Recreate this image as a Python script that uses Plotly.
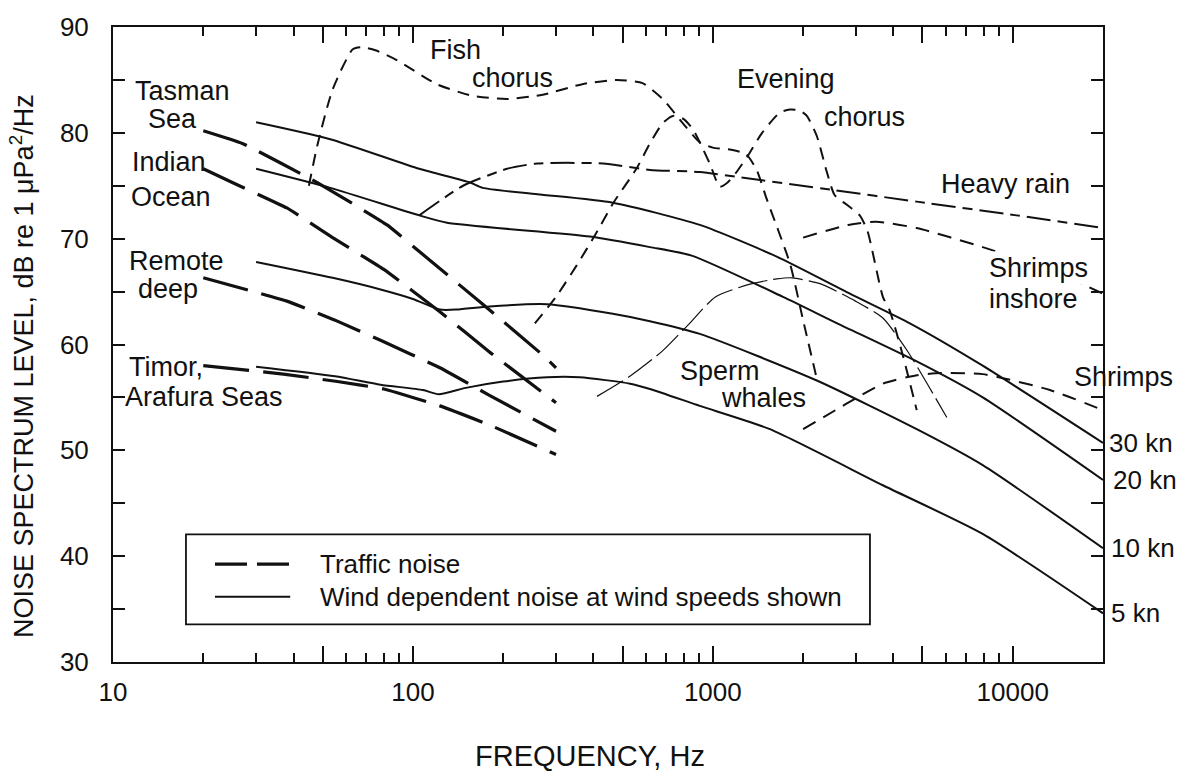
import math
import plotly.graph_objects as go

# ---------------- data (Hz, dB re 1 uPa^2/Hz) ----------------
wind30_f = [30, 53, 105, 155, 171, 260, 464, 905, 1634, 2864, 4540, 7940, 20000]
wind30_db = [81.0, 79.4, 76.6, 75.3, 74.8, 74.2, 73.4, 71.3, 68.3, 64.8, 62.0, 58.0, 50.7]

wind20_f = [30, 53, 105, 130, 389, 617, 850, 1714, 2600, 4786, 7943, 20000]
wind20_db = [76.6, 74.8, 72.2, 71.5, 70.2, 69.2, 68.4, 64.5, 62.0, 58.4, 55.0, 47.2]

wind10_f = [30, 54, 78, 100, 123, 140, 180, 280, 464, 617, 905, 2222, 4786, 7943, 20000]
wind10_db = [67.8, 66.3, 65.2, 64.3, 63.3, 63.3, 63.6, 63.8, 62.9, 62.2, 61.0, 56.6, 52.0, 48.6, 40.75]

wind5_f = [30, 55, 78, 108, 122, 150, 200, 280, 360, 530, 617, 905, 1550, 3690, 7940, 20000]
wind5_db = [57.9, 57.0, 56.2, 55.7, 55.3, 55.9, 56.5, 56.9, 56.9, 56.3, 55.8, 54.2, 52.0, 46.7, 42.1, 34.6]

tasman_f = [20, 27, 48, 82, 108, 171, 271, 300]
tasman_db = [80.2, 79.0, 75.3, 71.3, 68.5, 63.8, 59.0, 57.8]
indian_f = [20, 25, 38, 54, 80, 123, 180, 300]
indian_db = [76.6, 75.3, 72.9, 70.1, 67.1, 63.1, 59.3, 54.5]
remote_f = [20, 38, 55, 78, 123, 180, 300]
remote_db = [66.3, 64.1, 62.3, 60.4, 57.8, 55.2, 51.8]
timor_f = [20, 37, 56, 80, 123, 180, 300]
timor_db = [58.0, 57.2, 56.5, 55.8, 54.2, 52.4, 49.6]

rain_f = [105, 147, 206, 259, 430, 617, 905, 1230, 2512, 4786, 10300, 20000]
rain_db = [72.2, 75.0, 76.6, 77.1, 77.1, 76.5, 76.3, 75.8, 74.6, 73.5, 72.2, 71.0]

fish_f = [45, 48, 54, 63, 67, 75, 88, 120, 158, 206, 271, 367, 478, 583, 680, 795,
          905, 1000, 1150, 1290, 1400, 1510, 1810, 2000, 2220]
fish_db = [75.0, 78.8, 84.1, 87.9, 88.1, 87.8, 86.9, 84.6, 83.5, 83.2, 83.6, 84.6, 85.0, 84.7, 83.2, 80.9,
           79.1, 78.6, 78.4, 78.0, 76.5, 73.8, 67.6, 62.3, 56.8]

even_f = [255, 300, 352, 410, 464, 556, 617, 680, 736, 800, 860, 905, 980, 1055, 1120, 1200, 1320,
          1460, 1670, 1807, 1950, 2058, 2222, 2400, 2550, 2800, 3090, 3280, 3690, 3890, 4280, 4786]
even_db = [62.0, 64.5, 67.5, 70.6, 73.3, 76.6, 79.0, 80.9, 81.6, 81.3, 80.3, 79.1, 77.0, 74.9, 75.3, 76.3, 78.0,
           80.0, 81.9, 82.2, 82.1, 81.6, 79.7, 76.3, 74.1, 73.2, 72.2, 70.7, 64.5, 63.2, 59.2, 53.8]

sperm_f = [411, 529, 680, 837, 1020, 1330, 1634, 1840, 2300, 2990, 3690, 4500, 6030]
sperm_db = [55.1, 57.0, 59.4, 62.0, 64.5, 65.7, 66.2, 66.3, 65.7, 64.1, 62.5, 59.2, 53.1]

shrimp_in_f = [2000, 2830, 3500, 4786, 7943, 12000, 17100, 20000]
shrimp_in_db = [70.1, 71.3, 71.6, 71.0, 69.2, 67.5, 65.7, 64.8]

shrimp_f = [2000, 2830, 3690, 4786, 5800, 7943, 13300, 20000]
shrimp_db = [52.0, 54.5, 56.3, 57.1, 57.3, 57.2, 55.7, 53.8]

wind_labels = ["30 kn", "20 kn", "10 kn", "5 kn"]
x_labelled = [10, 100, 1000, 10000]
x_labels = ["10", "100", "1000", "10000"]
x_mid = [50, 500, 5000]
x_minor = [m * d for d in (10, 100, 1000) for m in (2, 3, 4, 6, 7, 8, 9)]
y_major = [30, 40, 50, 60, 70, 80, 90]
y_minor = [35, 45, 55, 65, 75, 85]

# ---------------- figure ----------------
FONT = "Liberation Sans, Arial, Helvetica, sans-serif"
INK = "#111111"
LS = 27
fig = go.Figure()


def add(f, db, dash, width, smooth=0.6):
    fig.add_trace(go.Scatter(
        x=f, y=db, mode="lines", showlegend=False, hoverinfo="skip",
        line=dict(color=INK, width=width, dash=dash, shape="spline", smoothing=smooth)))


TRAFFIC = "46px,14px"
SHORT = "12px,8px"
for f, d in [(wind30_f, wind30_db), (wind20_f, wind20_db), (wind10_f, wind10_db), (wind5_f, wind5_db)]:
    add(f, d, "solid", 2)
for f, d in [(tasman_f, tasman_db), (indian_f, indian_db), (remote_f, remote_db), (timor_f, timor_db)]:
    add(f, d, TRAFFIC, 3.2, 0.3)
add(rain_f, rain_db, "24px,7px,10px,7px", 2)
add(fish_f, fish_db, SHORT, 2)
add(even_f, even_db, SHORT, 2)
add(sperm_f, sperm_db, "30px,6px", 1.2)
add(shrimp_in_f, shrimp_in_db, "14px,9px", 2)
add(shrimp_f, shrimp_db, "14px,9px", 2)

# invisible carrier for the secondary tick axis (50 / 500 / 5000 long ticks)
fig.add_trace(go.Scatter(x=[x_mid[0]], y=[y_major[0]], xaxis="x2", mode="none",
                         showlegend=False, hoverinfo="skip"))

ann = []


def label(text, f, db, xanchor="center", bg=None):
    d = dict(text=text, x=math.log10(f), y=db, xref="x", yref="y", showarrow=False,
             xanchor=xanchor, yanchor="middle", font=dict(family=FONT, size=LS, color=INK))
    if bg:
        d["bgcolor"] = bg
    ann.append(d)


label("Fish", 139, 87.85)
label("chorus", 214, 85.2)
label("Evening", 1751, 85.05)
label("chorus", 3211, 81.5)
label("Heavy rain", 9480, 75.2)
label("Shrimps", 8190, 67.2, "left", bg="white")
label("inshore", 8190, 64.3, "left")
label("Shrimps", 15740, 56.9, "left")
label("Tasman", 17.1, 83.95)
label("Sea", 15.85, 81.3)
label("Indian", 15.4, 77.2)
label("Ocean", 15.6, 73.9)
label("Remote", 16.3, 67.9)
label("deep", 15.25, 65.2)
label("Timor,", 11.1, 57.85, "left")
label("Arafura Seas", 10.8, 55.05, "left")
label("Sperm", 1056, 57.5)
label("whales", 1479, 54.9)

for text, ends, shift in zip(wind_labels, [wind30_db, wind20_db, wind10_db, wind5_db], [4, 8, 6, 6]):
    ann.append(dict(text=text, x=1, xref="paper", y=ends[-1], yref="y", xanchor="left",
                    yanchor="middle", xshift=shift, showarrow=False,
                    font=dict(family=FONT, size=26, color=INK)))

# axis titles
ann.append(dict(text="NOISE SPECTRUM LEVEL, dB re 1 \u03bcPa<sup>2</sup>/Hz", textangle=-90,
                x=0, xref="paper", xshift=-91, y=0.466, yref="paper", showarrow=False,
                xanchor="center", yanchor="middle", font=dict(family=FONT, size=27, color=INK)))
ann.append(dict(text="FREQUENCY, Hz", x=0.482, xref="paper", y=0, yref="paper", yshift=-94,
                showarrow=False, xanchor="center", yanchor="middle",
                font=dict(family=FONT, size=29, color=INK)))

# legend (drawn as a boxed key)
ann.append(dict(text="Traffic noise", x=0.2071, y=0.1542, xref="paper", yref="paper", xanchor="left",
                yanchor="middle", showarrow=False, font=dict(family=FONT, size=26, color=INK)))
ann.append(dict(text="Wind dependent noise at wind speeds shown", x=0.2071, y=0.1028, xref="paper",
                yref="paper", xanchor="left", yanchor="middle", showarrow=False,
                font=dict(family=FONT, size=26, color=INK)))
shapes = [
    dict(type="rect", xref="paper", yref="paper", x0=0.0737, x1=0.7646, y0=0.0592, y1=0.2009,
         line=dict(color=INK, width=1.8), fillcolor="white", layer="below"),
    dict(type="line", xref="paper", yref="paper", x0=0.103, x1=0.179, y0=0.1542, y1=0.1542,
         line=dict(color=INK, width=3.2, dash="32px,10px")),
    dict(type="line", xref="paper", yref="paper", x0=0.103, x1=0.179, y0=0.1028, y1=0.1028,
         line=dict(color=INK, width=2)),
]

XR = [1, math.log10(20000)]
fig.update_layout(
    width=1180, height=773, autosize=False,
    margin=dict(l=113, r=77, t=20, b=111, pad=0),
    paper_bgcolor="white", plot_bgcolor="rgba(0,0,0,0)",
    font=dict(family=FONT, size=26, color=INK),
    annotations=ann, shapes=shapes, showlegend=False,
    xaxis=dict(type="log", range=XR, showgrid=False, zeroline=False,
               showline=True, linecolor=INK, linewidth=2, mirror="ticks",
               ticks="inside", ticklen=16, tickwidth=1.6, tickcolor=INK,
               tickmode="array", tickvals=x_labelled, ticktext=x_labels,
               tickfont=dict(family=FONT, size=26, color=INK), ticklabelstandoff=6,
               minor=dict(ticks="inside", ticklen=9, tickwidth=1.6, tickcolor=INK,
                          tickmode="array", tickvals=x_minor, showgrid=False)),
    xaxis2=dict(type="log", range=XR, overlaying="x", anchor="y", side="bottom",
                showgrid=False, zeroline=False, showline=False, mirror="ticks",
                ticks="inside", ticklen=16, tickwidth=1.6, tickcolor=INK,
                tickmode="array", tickvals=x_mid, showticklabels=False),
    yaxis=dict(range=[30, 90], showgrid=False, zeroline=False,
               showline=True, linecolor=INK, linewidth=2, mirror="ticks",
               ticks="inside", ticklen=12, tickwidth=1.6, tickcolor=INK,
               tickmode="array", tickvals=y_major,
               tickfont=dict(family=FONT, size=26, color=INK), ticklabelstandoff=17,
               minor=dict(ticks="inside", ticklen=12, tickwidth=1.6, tickcolor=INK,
                          tickmode="array", tickvals=y_minor, showgrid=False)),
)

fig.write_html("out.html", config={"displayModeBar": False},
               post_script="document.body.style.margin='0px';document.body.style.overflow='hidden';")
